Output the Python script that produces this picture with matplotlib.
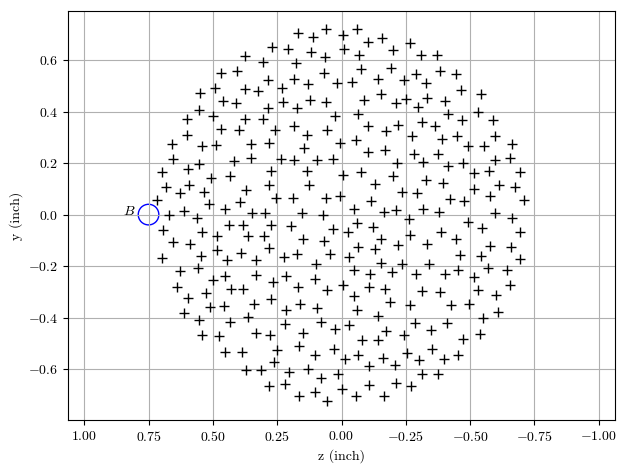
import matplotlib
matplotlib.use("Agg")
import matplotlib.pyplot as plt
from matplotlib.patches import Circle
import numpy as np

plt.rcParams['font.family'] = 'serif'
plt.rcParams['font.serif'] = ['cmr10', 'DejaVu Serif']
plt.rcParams['mathtext.fontset'] = 'cm'
plt.rcParams['axes.formatter.use_mathtext'] = True

# posiciones (z, y) en pulgadas
puntos = [
    (0.270, 0.649), (0.376, 0.615), (0.306, 0.594), (0.467, 0.550), (0.407, 0.556),
    (0.287, 0.524), (0.549, 0.471), (0.490, 0.493), (0.376, 0.489), (0.325, 0.479),
    (0.459, 0.441), (0.410, 0.433), (0.287, 0.415), (0.553, 0.405), (0.601, 0.372),
    (0.499, 0.384), (0.376, 0.371), (0.306, 0.371), (0.467, 0.331), (0.399, 0.327),
    (0.258, 0.327), (0.601, 0.310), (0.660, 0.275), (0.544, 0.265), (0.486, 0.270),
    (0.351, 0.275), (0.283, 0.279),
    (0.171, 0.705), (0.112, 0.688), (0.062, 0.719), (-0.004, 0.695), (-0.062, 0.720),
    (-0.104, 0.668), (-0.157, 0.684), (-0.268, 0.664), (0.208, 0.641), (0.120, 0.629),
    (0.066, 0.610), (-0.008, 0.643), (-0.069, 0.621), (-0.201, 0.637), (0.178, 0.590),
    (0.069, 0.551), (-0.077, 0.563), (-0.192, 0.567), (0.185, 0.528), (0.131, 0.506),
    (0.019, 0.509), (-0.039, 0.514), (-0.143, 0.528), (-0.242, 0.524), (0.233, 0.491),
    (0.226, 0.437), (0.122, 0.444), (0.062, 0.436), (0.174, 0.412), (-0.088, 0.445),
    (-0.154, 0.466), (-0.210, 0.432), (-0.251, 0.449), (0.027, 0.384), (-0.063, 0.392),
    (0.185, 0.345), (0.135, 0.310), (0.058, 0.330), (-0.102, 0.345), (-0.174, 0.323),
    (-0.220, 0.349), (-0.275, 0.305), (0.147, 0.257), (0.006, 0.277), (-0.058, 0.288),
    (-0.102, 0.241), (-0.170, 0.250),
    (-0.309, 0.619), (-0.371, 0.619), (-0.290, 0.547), (-0.382, 0.556), (-0.444, 0.545),
    (-0.328, 0.511), (-0.463, 0.482), (-0.541, 0.467), (-0.332, 0.454), (-0.402, 0.440),
    (-0.297, 0.418), (-0.413, 0.392), (-0.532, 0.398), (-0.313, 0.358), (-0.363, 0.345),
    (-0.467, 0.366), (-0.590, 0.368), (-0.390, 0.295), (-0.448, 0.306), (-0.490, 0.265),
    (-0.552, 0.267), (-0.598, 0.306), (-0.664, 0.275), (-0.280, 0.235), (-0.375, 0.235),
    (0.653, 0.214), (0.552, 0.197), (0.417, 0.209), (0.351, 0.221), (0.699, 0.166),
    (0.598, 0.178), (0.506, 0.143), (0.434, 0.148), (0.274, 0.170), (0.683, 0.109),
    (0.629, 0.084), (0.591, 0.114), (0.533, 0.088), (0.372, 0.096), (0.282, 0.114),
    (0.717, 0.057), (0.514, 0.042), (0.396, 0.049), (0.254, 0.065), (0.670, 0.000),
    (0.614, 0.013), (0.560, -0.013), (0.452, 0.021), (0.346, 0.008), (0.298, 0.008),
    (0.695, -0.060), (0.541, -0.069), (0.483, -0.084), (0.439, -0.039), (0.383, -0.042),
    (0.364, -0.084), (0.301, -0.084), (0.273, -0.039), (0.656, -0.108), (0.587, -0.114),
    (0.696, -0.168), (0.548, -0.162), (0.483, -0.139), (0.444, -0.175), (0.390, -0.148),
    (0.332, -0.176), (0.282, -0.128), (0.629, -0.218), (0.556, -0.207), (0.499, -0.253),
    (0.454, -0.237), (0.332, -0.235), (0.268, -0.261),
    (0.236, 0.217), (0.185, 0.213), (0.097, 0.213), (0.035, 0.217), (-0.216, 0.200),
    (0.135, 0.168), (-0.005, 0.152), (-0.077, 0.166), (-0.202, 0.148), (0.127, 0.114),
    (-0.131, 0.119), (-0.236, 0.088), (0.189, 0.065), (0.062, 0.065), (0.004, 0.074),
    (-0.116, 0.054), (0.153, 0.005), (0.073, 0.000), (-0.049, 0.023), (-0.166, 0.012),
    (-0.212, 0.018), (-0.261, -0.019), (0.198, -0.046), (0.035, -0.056), (-0.025, -0.069),
    (-0.062, -0.034), (-0.122, -0.048), (0.149, -0.093), (0.069, -0.101), (-0.154, -0.095),
    (0.224, -0.166), (0.174, -0.153), (0.045, -0.153), (-0.030, -0.166), (-0.063, -0.127),
    (-0.131, -0.133), (-0.220, -0.118), (0.100, -0.193), (-0.154, -0.187), (-0.236, -0.192),
    (0.216, -0.239), (0.104, -0.249), (-0.049, -0.214), (-0.112, -0.231), (-0.196, -0.221),
    (-0.315, 0.206), (-0.415, 0.187), (-0.471, 0.200), (-0.595, 0.213), (-0.656, 0.218),
    (-0.515, 0.162), (-0.575, 0.168), (-0.695, 0.165), (-0.328, 0.135), (-0.394, 0.123),
    (-0.514, 0.100), (-0.614, 0.114), (-0.675, 0.109), (-0.293, 0.084), (-0.420, 0.061),
    (-0.475, 0.053), (-0.579, 0.074), (-0.709, 0.057), (-0.315, 0.022), (-0.377, 0.011),
    (-0.490, -0.027), (-0.595, 0.005), (-0.664, -0.013), (-0.546, -0.053), (-0.695, -0.066),
    (-0.268, -0.078), (-0.386, -0.066), (-0.444, -0.095), (-0.334, -0.114), (-0.579, -0.123),
    (-0.660, -0.127), (-0.462, -0.157), (-0.544, -0.161), (-0.695, -0.171), (-0.339, -0.193),
    (-0.288, -0.231), (-0.402, -0.231), (-0.452, -0.215), (-0.570, -0.207), (-0.645, -0.214),
    (-0.515, -0.242), (-0.654, -0.272),
    (0.641, -0.280), (0.595, -0.324), (0.525, -0.306), (0.429, -0.289), (0.382, -0.289),
    (0.510, -0.358), (0.456, -0.354), (0.340, -0.345), (0.274, -0.328), (0.614, -0.382),
    (0.554, -0.410), (0.434, -0.415), (0.363, -0.398), (0.544, -0.467), (0.475, -0.472),
    (0.333, -0.460), (0.278, -0.467), (0.454, -0.533), (0.386, -0.533), (0.251, -0.526),
    (0.263, -0.572), (0.372, -0.604), (0.313, -0.604), (0.283, -0.667),
    (0.170, -0.281), (0.058, -0.293), (-0.004, -0.274), (-0.108, -0.281), (-0.170, -0.289),
    (-0.049, -0.316), (-0.189, -0.340), (-0.266, -0.351), (0.216, -0.372), (0.162, -0.347),
    (0.097, -0.363), (-0.062, -0.371), (-0.143, -0.394), (0.219, -0.425), (0.080, -0.418),
    (-0.031, -0.429), (0.149, -0.460), (0.024, -0.445), (-0.174, -0.450), (-0.241, -0.467),
    (0.166, -0.510), (0.104, -0.546), (0.031, -0.523), (-0.080, -0.488), (-0.143, -0.488),
    (-0.256, -0.537), (-0.012, -0.561), (-0.066, -0.546), (-0.162, -0.555), (-0.108, -0.589),
    (-0.206, -0.585), (0.205, -0.610), (0.131, -0.600), (0.015, -0.620), (0.080, -0.635),
    (0.220, -0.659), (0.000, -0.678), (-0.108, -0.663), (-0.212, -0.655), (-0.271, -0.667),
    (0.166, -0.705), (0.104, -0.690), (0.058, -0.725), (-0.058, -0.702), (-0.166, -0.702),
    (-0.313, -0.297), (-0.381, -0.301), (-0.532, -0.293), (-0.601, -0.312), (-0.425, -0.351),
    (-0.497, -0.347), (-0.551, -0.402), (-0.610, -0.379), (-0.286, -0.421), (-0.347, -0.449),
    (-0.409, -0.421), (-0.471, -0.481), (-0.537, -0.463), (-0.301, -0.563), (-0.350, -0.523),
    (-0.398, -0.559), (-0.454, -0.545), (-0.313, -0.620), (-0.375, -0.620),
]
z = np.array([p[0] for p in puntos])
y = np.array([p[1] for p in puntos])

# fuente B
b_z, b_y, b_r = 0.75, 0.0, 0.04

fig, ax = plt.subplots(figsize=(6.28, 4.70), dpi=100)
ax.plot(z, y, 'k+', markersize=6.5, markeredgewidth=1.0)
ax.add_patch(Circle((b_z, b_y), b_r, fill=False, edgecolor='blue', linewidth=1.0))
ax.text(b_z + b_r + 0.01, b_y, '$B$', ha='right', va='baseline', fontsize=10)

ax.set_xlim(1.063, -1.063)
ax.set_ylim(-0.797, 0.79)
ax.set_xlabel('z (inch)')
ax.set_ylabel('y (inch)')
ax.grid(True)

plt.subplots_adjust(left=0.1083, right=0.9793, bottom=0.1064, top=0.9766)
fig.savefig('out.png', dpi=100)
